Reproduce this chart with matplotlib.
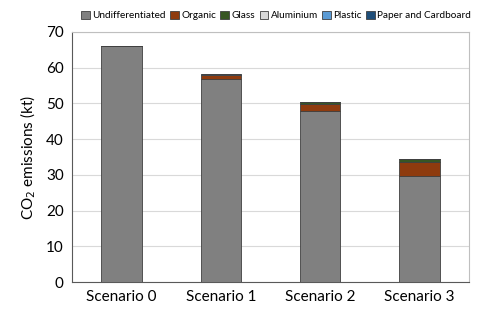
import numpy as np
import matplotlib
matplotlib.use("Agg")
import matplotlib.pyplot as plt

plt.rcParams["font.family"] = ["Lato", "DejaVu Sans"]

# chart data
scenarios = ["Scenario 0", "Scenario 1", "Scenario 2", "Scenario 3"]
undifferentiated = [66.0, 56.9, 47.9, 29.6]
organic = [0.0, 1.0, 2.0, 4.1]
glass = [0.0, 0.15, 0.35, 0.6]
aluminium = [0.0, 0.02, 0.03, 0.05]
plastic = [0.0, 0.05, 0.05, 0.05]
paper = [0.0, 0.15, 0.15, 0.15]

series = [
    ("Undifferentiated", undifferentiated, "#808080"),
    ("Organic", organic, "#8E3B0E"),
    ("Glass", glass, "#375623"),
    ("Aluminium", aluminium, "#D9D9D9"),
    ("Plastic", plastic, "#5B9BD5"),
    ("Paper and Cardboard", paper, "#1F4E79"),
]

fig = plt.figure(figsize=(4.8, 3.13), dpi=100)
ax = fig.add_axes([0.15, 0.099, 0.827, 0.799])

x = np.arange(len(scenarios))
bottom = np.zeros(len(scenarios))
for name, vals, color in series:
    vals = np.array(vals)
    ax.bar(x, vals, 0.41, bottom=bottom, color=color, edgecolor="#404040",
           linewidth=0.6, label=name, zorder=3)
    bottom += vals

ax.set_xlim(-0.5, len(scenarios) - 0.5)
ax.set_ylim(0, 70)
ax.set_yticks(range(0, 71, 10))
ax.set_xticks(x)
ax.set_xticklabels(scenarios)
ax.tick_params(axis="both", length=0, labelsize=11, colors="#000000", pad=6)
ax.grid(axis="y", color="#D9D9D9", linewidth=0.8, zorder=0)
for side in ["left", "bottom"]:
    ax.spines[side].set_color("#595959")
    ax.spines[side].set_linewidth(0.8)
for side in ["top", "right"]:
    ax.spines[side].set_color("#BFBFBF")
    ax.spines[side].set_linewidth(0.8)

ax.set_ylabel("CO$_2$ emissions (kt)", fontsize=11, labelpad=6)

fig.legend(loc="upper right", bbox_to_anchor=(0.988, 0.975), ncol=6,
           frameon=False, fontsize=7.2, handlelength=0.85, handleheight=0.85,
           handletextpad=0.25, columnspacing=0.45, borderpad=0.3,
           borderaxespad=0)

fig.savefig("out.png", dpi=100)
